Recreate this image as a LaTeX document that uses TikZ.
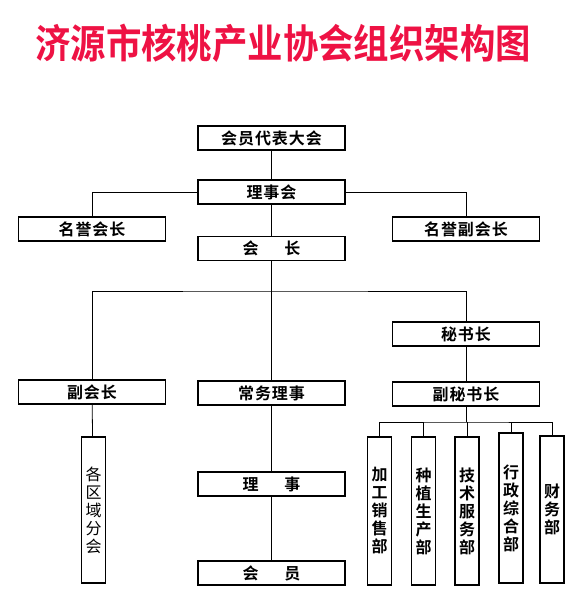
\documentclass[tikz,border=0pt]{standalone}
\usepackage{fontspec}
\newfontfamily\cjk{Noto Sans CJK SC}[BoldFont={Noto Sans CJK SC Bold}]
\newfontfamily\cjkbox{Noto Sans CJK SC}[BoldFont={Noto Sans CJK SC Bold},LetterSpace=6]
\definecolor{titlered}{RGB}{238,18,68}
\begin{document}
\begin{tikzpicture}[x=1pt,y=-1pt,
  box/.style={draw, line width=1.4pt, minimum width=147pt, minimum height=24pt, inner sep=0pt,
    font=\cjkbox\bfseries\fontsize{16}{16}\selectfont},
  vbox/.style={draw, line width=1.4pt, minimum width=24pt, minimum height=148pt, inner sep=0pt,
    align=center, font=\cjk\bfseries\fontsize{16}{18}\selectfont},
  conn/.style={line width=0.8pt}]
\useasboundingbox (0,0) rectangle (581,610);
\node[font=\cjk\bfseries\fontsize{40}{40}\selectfont, text=titlered, inner sep=0pt] (title) at (283,43) {\scalebox{0.885}[1]{济源市核桃产业协会组织架构图}};

\node[box] (dbdh) at (271.5,138) {会员代表大会};
\node[box] (lsh) at (271.5,192) {理事会};
\node[box] (myhz) at (92,229) {名誉会长};
\node[box] (myfhz) at (466,229) {名誉副会长};
\node[box] (hz) at (271.5,248.5) {会\hspace{1.6em}长};
\node[box] (msz) at (466,334) {秘书长};
\node[box] (fhz) at (92,392) {副会长};
\node[box] (cwls) at (271.5,393) {常务理事};
\node[box] (fmsz) at (466,394) {副秘书长};
\node[vbox, minimum height=146pt, font=\cjk\fontsize{16}{18}\selectfont] (qyfh) at (93.5,510) {各\\区\\域\\分\\会};
\node[box] (ls) at (271.5,484) {理\hspace{1.6em}事};
\node[box] (hy) at (271.5,573) {会\hspace{1.6em}员};

\node[vbox] (d1) at (379.5,511) {加\\工\\销\\售\\部};
\node[vbox] (d2) at (423.5,511) {种\\植\\生\\产\\部};
\node[vbox] (d3) at (467,511) {技\\术\\服\\务\\部};
\node[vbox, minimum height=150pt] (d4) at (511,508) {行\\政\\综\\合\\部};
\node[vbox, minimum height=147pt] (d5) at (552,509.5) {财\\务\\部};

\coordinate (j1) at (271.5,291);
\coordinate (j2) at (466,422);

\draw[conn] (dbdh) -- (lsh);
\draw[conn] (myhz.north) |- (lsh.west);
\draw[conn] (myfhz.north) |- (lsh.east);
\draw[conn] (lsh) -- (hz);
\draw[conn] (hz) -- (cwls);
\draw[conn] (fhz.north) |- (j1) -| (msz.north);
\draw[conn] (msz) -- (fmsz);
\draw[conn] (fhz) -- (qyfh);
\draw[conn] (cwls) -- (ls);
\draw[conn] (ls) -- (hy);
\draw[conn] (fmsz.south) -- (j2);
\draw[conn] (d1.north) |- (j2) -| (d5.north);
\draw[conn] (d2.north) -- (d2.north |- j2);
\draw[conn] (d3.north) -- (d3.north |- j2);
\draw[conn] (d4.north) -- (d4.north |- j2);
\end{tikzpicture}
\end{document}
